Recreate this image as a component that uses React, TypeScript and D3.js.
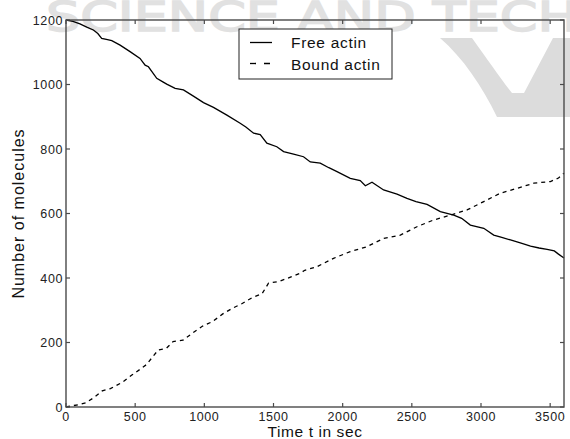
import React from "react";
import * as d3 from "d3";

const freeT = [0, 50, 101, 150, 198, 230, 258, 300, 331, 391, 463, 535, 572, 596, 656, 700, 728, 789, 849, 921, 994, 1066, 1163, 1259, 1300, 1356, 1404, 1452, 1524, 1573, 1645, 1717, 1766, 1838, 1900, 1959, 2055, 2127, 2164, 2212, 2296, 2393, 2465, 2530, 2610, 2706, 2803, 2860, 2923, 3020, 3092, 3150, 3213, 3290, 3358, 3420, 3478, 3530, 3560, 3600];
const freeV = [1200, 1196, 1188, 1178, 1169, 1158, 1143, 1139, 1136, 1122, 1102, 1081, 1060, 1055, 1019, 1008, 1001, 988, 983, 964, 944, 929, 905, 880, 868, 849, 845, 818, 807, 792, 784, 776, 760, 756, 742, 730, 709, 702, 686, 697, 673, 660, 647, 637, 628, 606, 595, 585, 564, 554, 533, 526, 518, 508, 499, 493, 489, 484, 474, 462];

const boundT = [0, 36, 100, 143, 202, 262, 321, 405, 476, 536, 583, 631, 667, 726, 774, 845, 917, 988, 1060, 1131, 1202, 1274, 1345, 1417, 1464, 1536, 1631, 1693, 1726, 1814, 1934, 2055, 2175, 2296, 2417, 2537, 2658, 2779, 2899, 3020, 3140, 3261, 3382, 3502, 3560, 3600];
const boundV = [0, 3, 8, 13, 29, 50, 57, 76, 99, 117, 132, 158, 177, 182, 203, 207, 230, 251, 265, 288, 306, 321, 339, 351, 384, 389, 404, 415, 424, 435, 461, 482, 497, 523, 533, 559, 580, 595, 611, 637, 663, 678, 694, 699, 710, 725];

const xTicks = [0, 500, 1000, 1500, 2000, 2500, 3000, 3500];
const yTicks = [0, 200, 400, 600, 800, 1000, 1200];
const seriesNames = ["Free actin", "Bound actin"];
const xLabel = "Time t in sec";
const yLabel = "Number of molecules";
const watermark = "SCIENCE AND TECH";

const W = 570, H = 439;
const M = { left: 66, right: 564, top: 20, bottom: 407 };
const FONT = "'Liberation Sans', Arial, sans-serif";
const AX = "#4a4a4a";

export default function App() {
  const x = d3.scaleLinear().domain([0, 3600]).range([M.left, M.right]);
  const y = d3.scaleLinear().domain([0, 1200]).range([M.bottom, M.top]);
  const line = d3.line<[number, number]>().x(d => x(d[0])).y(d => y(d[1]));
  const freePts = freeT.map((t, i) => [t, freeV[i]] as [number, number]);
  const boundPts = boundT.map((t, i) => [t, boundV[i]] as [number, number]);
  const tl = 4;

  return (
    <svg width={W} height={H} style={{ position: "absolute", left: 0, top: 0, background: "#fff" }} fontFamily={FONT}>
      <rect x={0} y={0} width={W} height={H} fill="#fff" />
      {/* watermark */}
      <g>
        <text x={46} y={31} fontSize={40} fontWeight={400} textLength={532} lengthAdjust="spacingAndGlyphs" fill="#e1e1e1" stroke="#e1e1e1" strokeWidth={1.5} fontFamily="'DejaVu Sans', sans-serif">{watermark}</text>
        <path d="M440,38 L472,38 C488,60 500,78 512,93 L524,93 L553,38 L575,38 L575,117 L497,117 C482,86 463,58 440,38 Z" fill="#dcdcdc" />
      </g>
      {/* lines */}
      <path d={line(freePts) || ""} fill="none" stroke="#000" strokeWidth={1.3} />
      <path d={line(boundPts) || ""} fill="none" stroke="#000" strokeWidth={1.3} strokeDasharray="4,4" />
      {/* frame */}
      <rect x={M.left} y={M.top} width={M.right - M.left} height={M.bottom - M.top} fill="none" stroke={AX} strokeWidth={1.4} />
      {xTicks.map(t => (
        <g key={"x" + t}>
          <line x1={x(t)} x2={x(t)} y1={M.bottom} y2={M.bottom - tl} stroke={AX} strokeWidth={1.2} />
          <line x1={x(t)} x2={x(t)} y1={M.top} y2={M.top + tl} stroke={AX} strokeWidth={1.2} />
          <text x={x(t)} y={M.bottom + 14} textAnchor="middle" fontSize={12.5} letterSpacing={0.6} fill="#222">{t}</text>
        </g>
      ))}
      {yTicks.map(v => (
        <g key={"y" + v}>
          <line x1={M.left} x2={M.left + tl} y1={y(v)} y2={y(v)} stroke={AX} strokeWidth={1.2} />
          <line x1={M.right} x2={M.right - tl} y1={y(v)} y2={y(v)} stroke={AX} strokeWidth={1.2} />
          <text x={M.left - 3} y={y(v) + 4.5} textAnchor="end" fontSize={12.5} letterSpacing={0.6} fill="#222">{v}</text>
        </g>
      ))}
      <text x={(M.left + M.right) / 2} y={437} textAnchor="middle" fontSize={15.5} letterSpacing={0.6} fill="#111">{xLabel}</text>
      <text transform={`translate(24,${(M.top + M.bottom) / 2}) rotate(-90)`} textAnchor="middle" fontSize={16} letterSpacing={1} fill="#111">{yLabel}</text>
      {/* legend */}
      <g>
        <rect x={239} y={29} width={153} height={50} fill="#fff" stroke="#222" strokeWidth={1} />
        <line x1={250} x2={272} y1={42.5} y2={42.5} stroke="#000" strokeWidth={1.3} />
        <line x1={250} x2={274} y1={63.5} y2={63.5} stroke="#000" strokeWidth={1.3} strokeDasharray="6,8" />
        <text x={291} y={48} fontSize={15.5} letterSpacing={0.7} fill="#111">{seriesNames[0]}</text>
        <text x={291} y={69.5} fontSize={15.5} letterSpacing={0.7} fill="#111">{seriesNames[1]}</text>
      </g>
    </svg>
  );
}
